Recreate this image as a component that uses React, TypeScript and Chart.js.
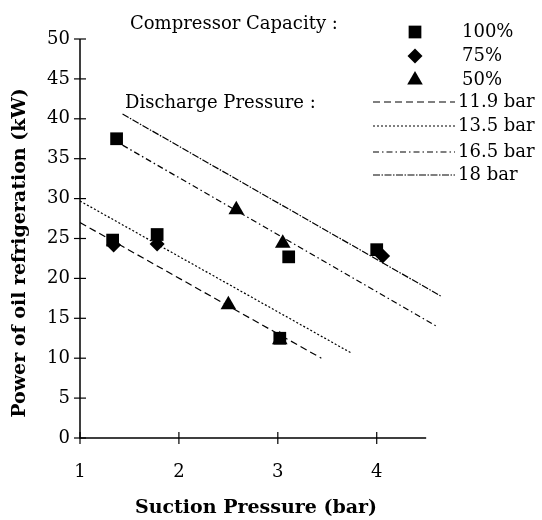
import { useEffect, useRef } from 'react';
import { Chart, registerables } from 'chart.js';

Chart.register(...registerables);

// ---- axis ticks ----
const xTicks = [1, 2, 3, 4];
const yTicks = [0, 5, 10, 15, 20, 25, 30, 35, 40, 45, 50];
const xMin = 1;
const xMax = 4.66;
const xAxisEnd = 4.5;
const yMin = 0;
const yMax = 50;

// ---- legend labels ----
const capacityTitle = 'Compressor Capacity :';
const pressureTitle = 'Discharge Pressure :';
const capacityLabels = ['100%', '75%', '50%'];
const pressureLabels = ['11.9 bar', '13.5 bar', '16.5 bar', '18 bar'];

// ---- measured points ----
const cap100X = [1.37, 1.33, 1.78, 3.11, 3.02, 4.0];
const cap100Y = [37.5, 24.8, 25.5, 22.7, 12.5, 23.6];
const cap75X = [1.34, 1.78, 4.06];
const cap75Y = [24.2, 24.3, 22.8];
const cap50X = [2.58, 3.05, 2.5, 3.02];
const cap50Y = [28.6, 24.4, 16.7, 12.3];

// ---- fitted lines (end points) ----
const p119X = [1.0, 3.44];
const p119Y = [27.0, 10.0];
const p135X = [1.0, 3.75];
const p135Y = [29.7, 10.6];
const p165X = [1.43, 4.62];
const p165Y = [36.7, 13.9];
const p18X = [1.43, 4.66];
const p18Y = [40.6, 17.7];

const dashes = [[7, 4], [2, 2], [6, 3, 1.5, 3], [7, 1.5, 1.5, 1.5]];

const FONT = '"DejaVu Serif", serif';

const pts = (xs: number[], ys: number[]) => xs.map((x, i) => ({ x, y: ys[i] }));

function drawSymbol(ctx: CanvasRenderingContext2D, kind: string, x: number, y: number, r: number) {
  ctx.beginPath();
  if (kind === 'rect') {
    const s = Math.SQRT1_2 * r;
    ctx.rect(x - s, y - s, 2 * s, 2 * s);
  } else if (kind === 'rectRot') {
    ctx.moveTo(x, y - r);
    ctx.lineTo(x + r, y);
    ctx.lineTo(x, y + r);
    ctx.lineTo(x - r, y);
    ctx.closePath();
  } else {
    const h = r * 1.5;
    ctx.moveTo(x, y - r);
    ctx.lineTo(x + r * Math.sqrt(3) / 2, y + r / 2);
    ctx.lineTo(x - r * Math.sqrt(3) / 2, y + r / 2);
    ctx.closePath();
    void h;
  }
  ctx.fill();
}

const decorPlugin = {
  id: 'decor',
  beforeDatasetsDraw(chart: any) {
    const ctx = chart.ctx as CanvasRenderingContext2D;
    const xs = chart.scales.x;
    const ys = chart.scales.y;
    const ax = xs.getPixelForValue(xMin);
    const ay = ys.getPixelForValue(yMin);
    ctx.save();
    ctx.strokeStyle = '#000';
    ctx.lineWidth = 1.5;
    ctx.beginPath();
    ctx.moveTo(ax, ys.getPixelForValue(yMax));
    ctx.lineTo(ax, ay);
    ctx.lineTo(xs.getPixelForValue(xAxisEnd), ay);
    ctx.stroke();
    ctx.lineWidth = 1.2;
    yTicks.forEach((v) => {
      const py = ys.getPixelForValue(v);
      ctx.beginPath();
      ctx.moveTo(ax - 6, py);
      ctx.lineTo(ax + 6, py);
      ctx.stroke();
    });
    xTicks.forEach((v) => {
      const px = xs.getPixelForValue(v);
      ctx.beginPath();
      ctx.moveTo(px, ay - 6);
      ctx.lineTo(px, ay + 6);
      ctx.stroke();
    });
    ctx.restore();
  },
  afterDraw(chart: any) {
    const ctx = chart.ctx as CanvasRenderingContext2D;
    ctx.save();
    ctx.fillStyle = '#000';
    ctx.strokeStyle = '#000';
    ctx.textBaseline = 'middle';
    ctx.textAlign = 'left';
    ctx.font = `18px ${FONT}`;
    ctx.fillText(capacityTitle, 130, 24);
    ctx.fillText(pressureTitle, 125, 103);
    const kinds = ['rect', 'rectRot', 'triangle'];
    const capY = [32, 56, 80];
    capacityLabels.forEach((l, i) => {
      drawSymbol(ctx, kinds[i], 415, capY[i], i === 0 ? 9 : i === 1 ? 7.5 : 9);
      ctx.fillText(l, 462, capY[i]);
    });
    const prY = [102, 126, 152, 175];
    pressureLabels.forEach((l, i) => {
      ctx.lineWidth = 1.2;
      ctx.setLineDash(dashes[i]);
      ctx.beginPath();
      ctx.moveTo(373, prY[i]);
      ctx.lineTo(455, prY[i]);
      ctx.stroke();
      ctx.setLineDash([]);
      ctx.fillText(l, 458, prY[i]);
    });
    // axis titles
    ctx.font = `bold 19px ${FONT}`;
    ctx.textAlign = 'center';
    ctx.fillText('Suction Pressure (bar)', 256, 508);
    ctx.translate(20, 253);
    ctx.rotate(-Math.PI / 2);
    ctx.fillText('Power of oil refrigeration (kW)', 0, 0);
    ctx.restore();
  },
};

export default function App() {
  const ref = useRef<HTMLCanvasElement>(null);
  useEffect(() => {
    if (!ref.current) return;
    const lineDs = (xs: number[], ys: number[], d: number[]) => ({
      type: 'line' as const,
      data: pts(xs, ys),
      borderColor: '#000',
      borderWidth: 1.2,
      borderDash: d,
      pointRadius: 0,
      showLine: true,
      fill: false,
    });
    const pointDs = (xs: number[], ys: number[], style: string, r: number) => ({
      type: 'scatter' as const,
      data: pts(xs, ys),
      pointStyle: style,
      pointRadius: r,
      backgroundColor: '#000',
      borderColor: '#000',
      borderWidth: 0,
      showLine: false,
    });
    const chart = new Chart(ref.current, {
      type: 'scatter',
      data: {
        datasets: [
          lineDs(p119X, p119Y, dashes[0]),
          lineDs(p135X, p135Y, dashes[1]),
          lineDs(p165X, p165Y, dashes[2]),
          lineDs(p18X, p18Y, dashes[3]),
          pointDs(cap50X, cap50Y, 'triangle', 9),
          pointDs(cap75X, cap75Y, 'rectRot', 7.5),
          pointDs(cap100X, cap100Y, 'rect', 9),
        ] as any,
      },
      options: {
        animation: false,
        responsive: false,
        layout: { padding: { top: 39, right: 100, left: 0, bottom: 0 } },
        plugins: { legend: { display: false }, tooltip: { enabled: false } },
        scales: {
          x: {
            type: 'linear',
            min: xMin,
            max: xMax,
            grid: { display: false, drawTicks: false },
            border: { display: false },
            afterBuildTicks: (s: any) => { s.ticks = xTicks.map((v) => ({ value: v })); },
            afterFit: (s: any) => { s.height = 82; },
            ticks: { color: '#000', font: { family: FONT, size: 18 }, padding: 24, maxRotation: 0, autoSkip: false },
          },
          y: {
            type: 'linear',
            min: yMin,
            max: yMax,
            grid: { display: false, drawTicks: false },
            border: { display: false },
            afterBuildTicks: (s: any) => { s.ticks = yTicks.map((v) => ({ value: v })); },
            afterFit: (s: any) => { s.width = 80; },
            ticks: { color: '#000', font: { family: FONT, size: 18 }, padding: 10, autoSkip: false },
          },
        },
      },
      plugins: [decorPlugin],
    });
    return () => chart.destroy();
  }, []);
  return (
    <div style={{ position: 'fixed', left: 0, top: 0, width: 542, height: 520, background: '#fff' }}>
      <canvas ref={ref} width={542} height={520} />
    </div>
  );
}
